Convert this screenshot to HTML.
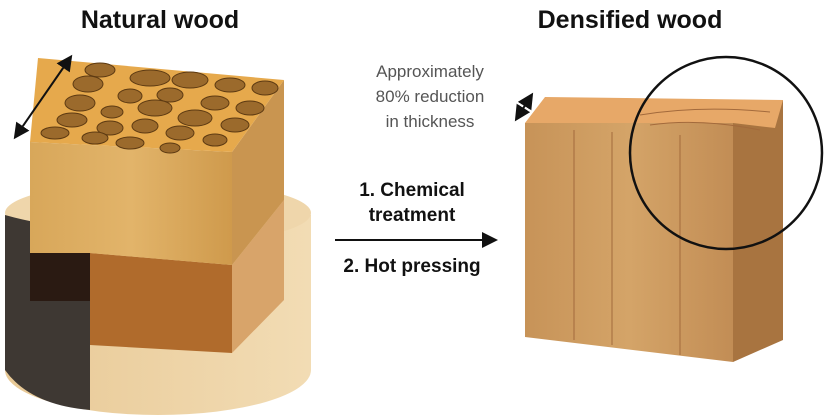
<!DOCTYPE html>
<html><head><meta charset="utf-8"><style>
html,body{margin:0;padding:0;background:#fff;}
svg{display:block;}
text{font-family:"Liberation Sans",sans-serif;}
</style></head><body>
<svg width="825" height="417" viewBox="0 0 825 417" xmlns="http://www.w3.org/2000/svg">
<defs>
<linearGradient id="logL" x1="0" x2="1"><stop offset="0" stop-color="#e8c996"/><stop offset="1" stop-color="#f2dcb4"/></linearGradient>
<linearGradient id="cubeF" x1="0" x2="1"><stop offset="0" stop-color="#d8a75a"/><stop offset=".5" stop-color="#e2b46a"/><stop offset="1" stop-color="#cf9a4c"/></linearGradient>
<linearGradient id="blk" x1="0" x2="1"><stop offset="0" stop-color="#c79358"/><stop offset=".5" stop-color="#d4a468"/><stop offset="1" stop-color="#c28d55"/></linearGradient>
<marker id="ah" markerWidth="8" markerHeight="8" refX="6" refY="4" orient="auto-start-reverse"><path d="M0,0 L8,4 L0,8 Z" fill="#111"/></marker>
</defs>
<text x="160" y="28" font-size="25" font-weight="bold" text-anchor="middle" fill="#111">Natural wood</text>
<text x="630" y="28" font-size="25" font-weight="bold" text-anchor="middle" fill="#111">Densified wood</text>

<!-- log -->
<path d="M5,215 L5,370 A153,45 0 0 0 311,370 L311,215 Z" fill="url(#logL)"/>
<ellipse cx="158" cy="213" rx="153" ry="32" fill="#efd6ab"/>
<path d="M5,215 L5,370 Q30,405 90,410 L90,230 Q40,225 5,215 Z" fill="#3e3833"/>
<rect x="30" y="253" width="60" height="48" fill="#2a1a12"/>
<polygon points="90,253 232,265 232,353 90,345" fill="#b06b2c"/>
<polygon points="232,265 284,200 284,300 232,353" fill="#d8a46a"/>
<!-- cube -->
<polygon points="30,142 232,152 232,265 90,253 30,253" fill="url(#cubeF)"/>
<polygon points="232,152 284,80 284,200 232,265" fill="#c99550"/>
<polygon points="38,58 284,80 232,152 30,142" fill="#e6a94c"/>
<g fill="#9b6a2c" stroke="#5d3a12" stroke-width="1">
<ellipse cx="100" cy="70" rx="15" ry="7"/><ellipse cx="150" cy="78" rx="20" ry="8"/><ellipse cx="190" cy="80" rx="18" ry="8"/><ellipse cx="230" cy="85" rx="15" ry="7"/><ellipse cx="265" cy="88" rx="13" ry="7"/>
<ellipse cx="88" cy="84" rx="15" ry="8"/><ellipse cx="130" cy="96" rx="12" ry="7"/><ellipse cx="170" cy="95" rx="13" ry="7"/><ellipse cx="215" cy="103" rx="14" ry="7"/><ellipse cx="250" cy="108" rx="14" ry="7"/>
<ellipse cx="80" cy="103" rx="15" ry="8"/><ellipse cx="112" cy="112" rx="11" ry="6"/><ellipse cx="155" cy="108" rx="17" ry="8"/><ellipse cx="195" cy="118" rx="17" ry="8"/><ellipse cx="235" cy="125" rx="14" ry="7"/>
<ellipse cx="72" cy="120" rx="15" ry="7"/><ellipse cx="110" cy="128" rx="13" ry="7"/><ellipse cx="145" cy="126" rx="13" ry="7"/><ellipse cx="180" cy="133" rx="14" ry="7"/><ellipse cx="215" cy="140" rx="12" ry="6"/>
<ellipse cx="55" cy="133" rx="14" ry="6"/><ellipse cx="95" cy="138" rx="13" ry="6"/><ellipse cx="130" cy="143" rx="14" ry="6"/><ellipse cx="170" cy="148" rx="10" ry="5"/>
</g>
<line x1="16" y1="136" x2="70" y2="58" stroke="#111" stroke-width="2" marker-start="url(#ah)" marker-end="url(#ah)"/>

<!-- middle -->
<g font-size="17" fill="#555" text-anchor="middle">
<text x="430" y="77">Approximately</text>
<text x="430" y="102">80% reduction</text>
<text x="430" y="127">in thickness</text>
</g>
<g font-size="19" font-weight="bold" fill="#111" text-anchor="middle">
<text x="412" y="196">1. Chemical</text>
<text x="412" y="221">treatment</text>
<text x="412" y="272">2. Hot pressing</text>
</g>
<line x1="335" y1="240" x2="494" y2="240" stroke="#111" stroke-width="2" marker-end="url(#ah)"/>

<!-- densified block -->
<polygon points="733,123 783,100 783,340 733,362" fill="#a87440"/>
<polygon points="525,123 733,123 733,362 525,337" fill="url(#blk)"/>
<polygon points="525,123 545,97 783,100 775,128 733,123" fill="#e7a868"/>
<g stroke="#a36a3c" stroke-width="1" fill="none">
<line x1="574" y1="130" x2="574" y2="340"/><line x1="612" y1="132" x2="612" y2="345"/><line x1="680" y1="135" x2="680" y2="355"/>
<path d="M640,115 Q700,105 770,112"/><path d="M650,125 Q700,118 760,130"/>
</g>
<line x1="517" y1="118" x2="531" y2="96" stroke="#111" stroke-width="2" marker-start="url(#ah)" marker-end="url(#ah)"/>
<circle cx="726" cy="153" r="96" fill="none" stroke="#111" stroke-width="2.5"/>
</svg>
</body></html>
